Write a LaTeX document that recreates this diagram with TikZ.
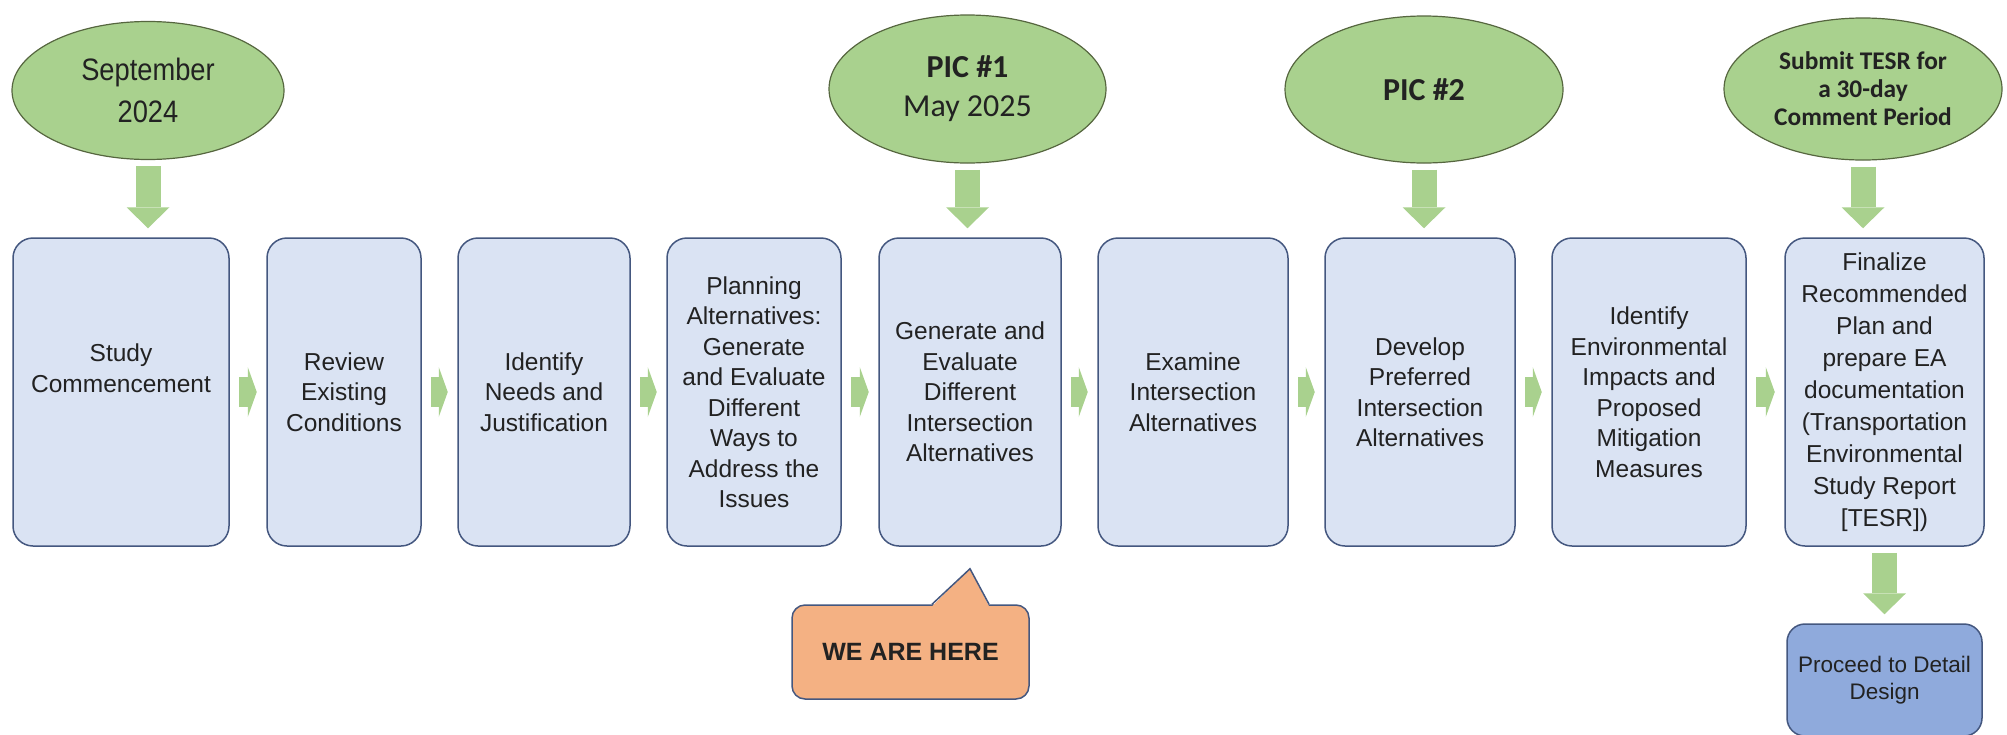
\documentclass[tikz,border=0pt]{standalone}
\usepackage{fontspec}
\setmainfont{Liberation Sans}
\newfontfamily\calibri{Carlito}
\newfontfamily\narrowsans[FakeStretch=0.88]{Liberation Sans}
\usepackage{xcolor}
\usetikzlibrary{shapes.geometric}
\usetikzlibrary{arrows.meta}

\definecolor{stepfill}{HTML}{DAE3F3}
\definecolor{stepline}{HTML}{44577F}
\definecolor{eventfill}{HTML}{A9D18E}
\definecolor{eventline}{HTML}{56663F}
\definecolor{flowgreen}{HTML}{A9D18E}
\definecolor{herefill}{HTML}{F4B183}
\definecolor{detailfill}{HTML}{8FAADC}
\definecolor{inkgray}{HTML}{222222}

\begin{document}
\begin{tikzpicture}[x=0.5pt, y=-0.5pt,
  stepbox/.style={draw=stepline, line width=0.75pt, fill=stepfill, rounded corners=10pt,
    minimum height=154pt, align=center, inner sep=2pt, text=inkgray,
    font=\fontsize{12.25}{15.25}\selectfont},
  event/.style={ellipse, draw=eventline, line width=0.6pt, fill=eventfill,
    inner sep=0pt, align=center, text=inkgray},
  herebox/.style={draw=stepline, line width=0.75pt, fill=herefill, rounded corners=6.5pt,
    minimum width=118.5pt, minimum height=47pt, text=inkgray,
    font=\bfseries\fontsize{12.5}{15}\selectfont},
  endbox/.style={draw=stepline, line width=0.75pt, fill=detailfill, rounded corners=9pt,
    minimum width=97.5pt, minimum height=56pt, align=center, text=inkgray,
    font=\fontsize{11.25}{13.5}\selectfont},
  dropflow/.style={draw=flowgreen, line width=12.5pt,
    -{Triangle[length=10.5pt, width=21.5pt, line width=0pt]},
    shorten <=3pt, shorten >=4.5pt},
  stepflow/.style={draw=flowgreen, line width=15pt,
    -{Triangle[length=4.5pt, width=25pt, line width=0pt]},
    shorten <=4.75pt, shorten >=4.75pt}]
  \useasboundingbox (0,0) rectangle (2007,734);

  % Milestones
  \node[event, minimum width=136pt, minimum height=69pt, font=\narrowsans\fontsize{15.5}{21}\selectfont] (e1) at (148,90.5) {September\\2024};
  \node[event, minimum width=138.5pt, minimum height=74pt, font=\calibri\fontsize{16}{19.5}\selectfont] (e2) at (967.5,89) {\textbf{PIC \#1}\\May 2025};
  \node[event, minimum width=139pt, minimum height=73.5pt, font=\calibri\bfseries\fontsize{16}{19.5}\selectfont] (e3) at (1424,89.5) {PIC \#2};
  \node[event, minimum width=139pt, minimum height=71pt, font=\calibri\bfseries\fontsize{12.7}{14}\selectfont] (e4) at (1863,89) {Submit TESR for\\a 30-day\\Comment Period};

  % Study steps
  \node[stepbox, minimum width=108pt, text depth=24pt] (b1) at (121,392) {Study\\Commencement};
  \node[stepbox, minimum width=77pt] (b2) at (344,392) {Review\\Existing\\Conditions};
  \node[stepbox, minimum width=86pt] (b3) at (544,392) {Identify\\Needs and\\Justification};
  \node[stepbox, minimum width=87pt] (b4) at (754,392) {Planning\\Alternatives:\\Generate\\and Evaluate\\Different\\Ways to\\Address the\\Issues};
  \node[stepbox, minimum width=91pt] (b5) at (970,392) {Generate and\\Evaluate\\Different\\Intersection\\Alternatives};
  \node[stepbox, minimum width=95pt] (b6) at (1193,392) {Examine\\Intersection\\Alternatives};
  \node[stepbox, minimum width=95pt] (b7) at (1420,392) {Develop\\Preferred\\Intersection\\Alternatives};
  \node[stepbox, minimum width=97pt] (b8) at (1649,392) {Identify\\Environmental\\Impacts and\\Proposed\\Mitigation\\Measures};
  \node[stepbox, minimum width=99.5pt, font=\fontsize{12.25}{16}\selectfont] (b9) at (1884.5,392) {Finalize\\Recommended\\Plan and\\prepare EA\\documentation\\(Transportation\\Environmental\\Study Report\\{[TESR])}};

  % Last step
  \node[endbox] (detail) at (1884.5,680) {Proceed to Detail\\Design};

  % Flow between steps
  \foreach \a/\b in {b1/b2, b2/b3, b3/b4, b4/b5, b5/b6, b6/b7, b7/b8, b8/b9}
    \draw[stepflow] (\a.east) -- (\b.west);

  % Milestones down to steps
  \foreach \e/\b in {e1/b1, e2/b5, e3/b7, e4/b9}
    \draw[dropflow] (\e.south) -- (\e.south |- \b.north);
  \draw[dropflow] (b9.south) -- (detail.north);

  % We are here
  \node[herebox] (here) at (910.5,652) {WE ARE HERE};
  \coordinate (herept) at ([yshift=-11pt]b5.south);
  \fill[herefill] ([xshift=10.75pt, yshift=-1pt]here.north) -- (herept) -- ([xshift=39.25pt, yshift=-1pt]here.north) -- cycle;
  \draw[stepline, line width=0.75pt] ([xshift=10.75pt]here.north) -- (herept) -- ([xshift=39.25pt]here.north);
\end{tikzpicture}
\end{document}
